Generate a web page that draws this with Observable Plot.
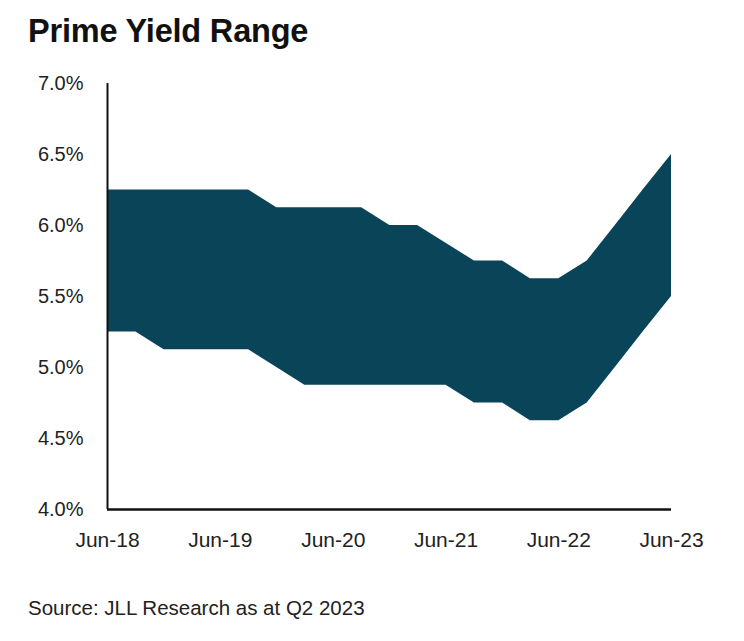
<!DOCTYPE html>
<html>
<head>
<meta charset="utf-8">
<script src="https://cdn.jsdelivr.net/npm/d3@7"></script>
<script src="https://cdn.jsdelivr.net/npm/@observablehq/plot@0.6"></script>
<style>
  html, body { margin: 0; padding: 0; background: #fff; }
  #wrap { position: relative; width: 744px; height: 641px; font-family: "Liberation Sans", Arial, sans-serif; }
  #title { position: absolute; left: 28px; top: 15px; font-size: 32.5px; font-weight: bold; line-height: 32px; color: #111; letter-spacing: -0.2px; }
  #chart { position: absolute; left: 0; top: 60px; }
  #source { position: absolute; left: 28px; top: 596px; font-size: 20.5px; line-height: 24px; color: #222; }
</style>
</head>
<body>
<div id="wrap">
  <div id="title">Prime Yield Range</div>
  <div id="chart"></div>
  <div id="source">Source: JLL Research as at Q2 2023</div>
</div>
<script>
const quarters = [
  "2018-06","2018-09","2018-12",
  "2019-03","2019-06","2019-09","2019-12",
  "2020-03","2020-06","2020-09","2020-12",
  "2021-03","2021-06","2021-09","2021-12",
  "2022-03","2022-06","2022-09","2022-12",
  "2023-03","2023-06"
];
const yieldLow = [
  5.25, 5.25, 5.125,
  5.125, 5.125, 5.125, 5.0,
  4.875, 4.875, 4.875, 4.875,
  4.875, 4.875, 4.75, 4.75,
  4.625, 4.625, 4.75, 5.0,
  5.25, 5.5
];
const yieldHigh = [
  6.25, 6.25, 6.25,
  6.25, 6.25, 6.25, 6.125,
  6.125, 6.125, 6.125, 6.0,
  6.0, 5.875, 5.75, 5.75,
  5.625, 5.625, 5.75, 6.0,
  6.25, 6.5
];
const xTickLabels = ["2018-06","2019-06","2020-06","2021-06","2022-06","2023-06"];
const yTicks = [4.0, 4.5, 5.0, 5.5, 6.0, 6.5, 7.0];

const parse = d3.utcParse("%Y-%m");
const data = quarters.map((q, i) => ({date: parse(q), low: yieldLow[i], high: yieldHigh[i]}));
const xTicks = xTickLabels.map(parse);

const chart = Plot.plot({
  width: 744,
  height: 520,
  marginTop: 23,
  marginLeft: 107,
  marginRight: 73,
  marginBottom: 71,
  style: {fontFamily: "'Liberation Sans', Arial, sans-serif", color: "#222", background: "transparent"},
  x: {type: "utc", domain: [parse("2018-06"), parse("2023-06")]},
  y: {domain: [4, 7]},
  marks: [
    Plot.areaY(data, {x: "date", y1: "low", y2: "high", fill: "#0a4459", curve: "linear"}),
    Plot.axisX({ticks: xTicks, tickFormat: d3.utcFormat("%b-%y"), tickSize: 0, tickPadding: 23, fontSize: 21, label: null}),
    Plot.axisY({ticks: yTicks, tickFormat: d => d.toFixed(1) + "%", tickSize: 0, tickPadding: 24, fontSize: 20, label: null}),
    Plot.ruleX([parse("2018-06")], {stroke: "#111", strokeWidth: 2}),
    Plot.ruleY([4], {stroke: "#111", strokeWidth: 2.5})
  ]
});
document.getElementById("chart").appendChild(chart);
</script>
</body>
</html>
